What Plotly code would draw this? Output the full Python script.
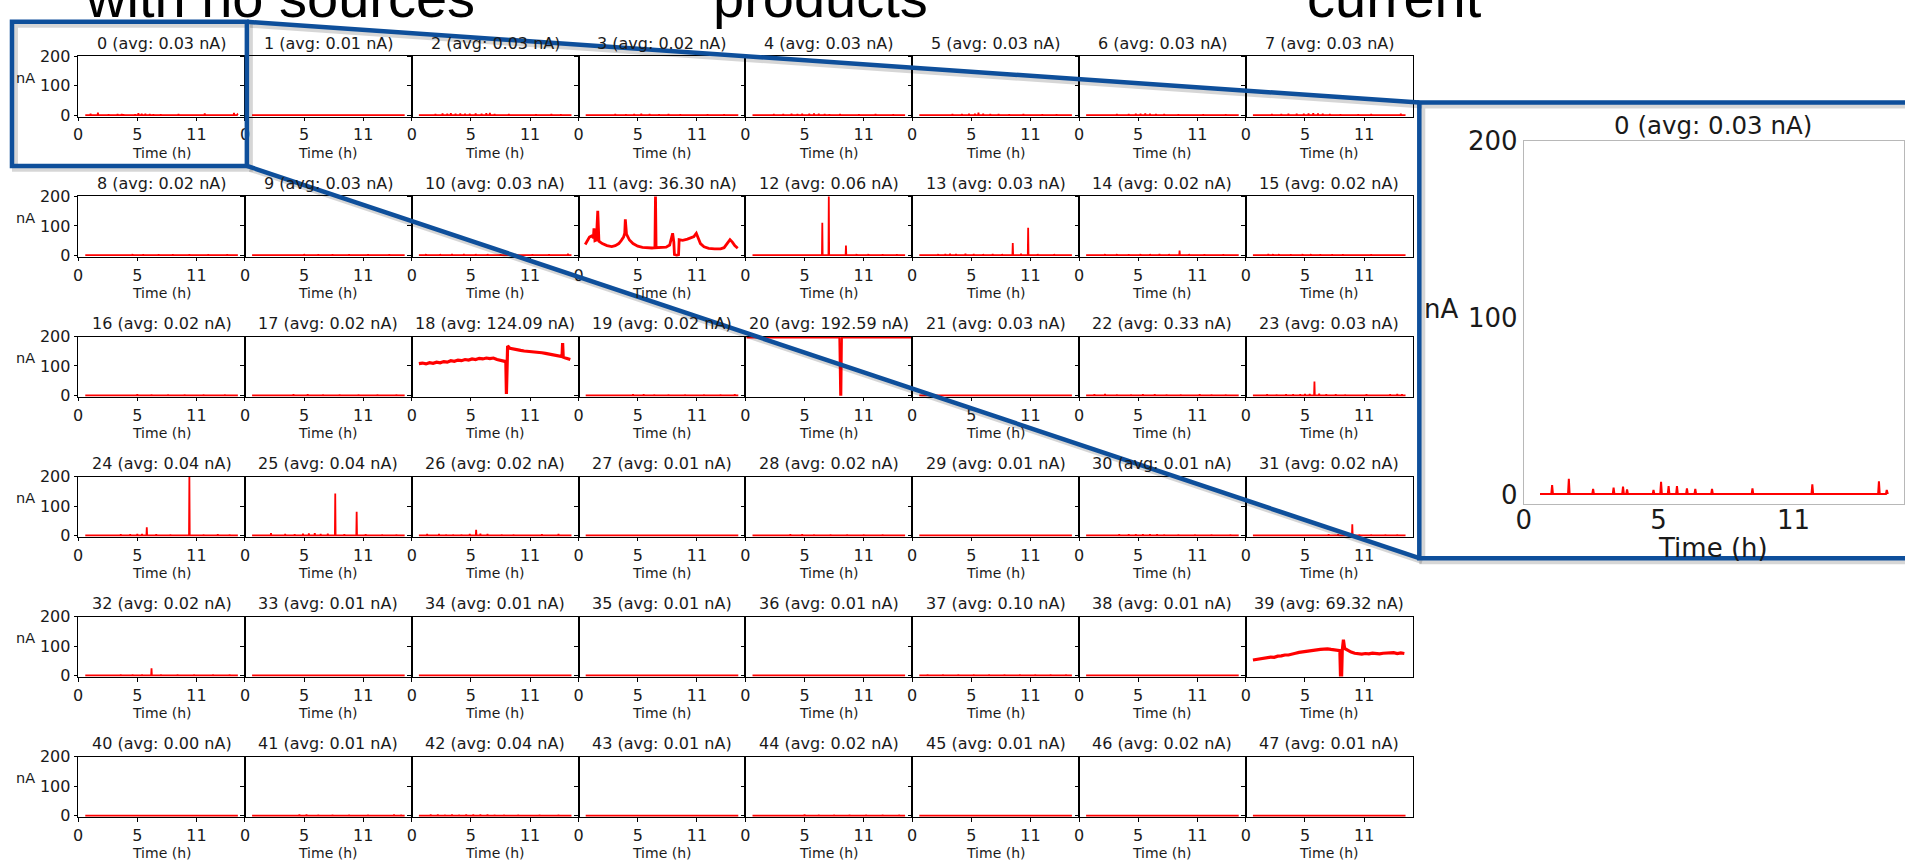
import plotly.graph_objects as go

W, H = 1905, 868

# ---------------- data ----------------
channel_avg_nA = [0.03, 0.01, 0.03, 0.02, 0.03, 0.03, 0.03, 0.03,
                  0.02, 0.03, 0.03, 36.30, 0.06, 0.03, 0.02, 0.02,
                  0.02, 0.02, 124.09, 0.02, 192.59, 0.03, 0.33, 0.03,
                  0.04, 0.04, 0.02, 0.01, 0.02, 0.01, 0.01, 0.02,
                  0.02, 0.01, 0.01, 0.01, 0.01, 0.10, 0.01, 69.32,
                  0.00, 0.01, 0.04, 0.01, 0.02, 0.01, 0.02, 0.01]

x_tick_vals = [0, 5, 10]
x_tick_text = ["0", "5", "11"]
y_tick_vals = [0, 100, 200]
y_tick_text = ["0", "100", "200"]

record_start_h = 0.6
record_end_h = 13.5
baseline_nA = 0.5

# short spikes on top of the quiet baseline (hours, nA); empty for continuous channels
spike_hours = [
    [1.05, 1.67, 2.57, 3.33, 3.68, 3.83, 4.81, 5.09, 5.37, 5.68, 6.05, 6.36, 6.98, 8.48, 10.7, 13.17, 13.46],
    [1.5, 2.6, 3.8, 5.2, 6.4, 8.0, 10.2, 12.6],
    [1.2, 2.0, 2.6, 3.0, 3.3, 3.7, 4.1, 4.5, 4.9, 5.4, 5.9, 6.3, 6.6, 7.0, 8.2, 10.5, 11.8, 12.6],
    [1.2, 2.3, 3.1, 4.0, 4.7, 5.3, 6.0, 6.8, 7.6, 8.6, 10.9, 12.3],
    [1.0, 2.4, 3.2, 3.9, 4.4, 4.8, 5.4, 5.8, 6.2, 6.7, 7.1, 8.0, 9.6, 11.0, 12.5],
    [0.9, 1.8, 2.6, 3.4, 4.2, 4.8, 5.3, 5.6, 6.0, 6.6, 7.3, 8.2, 9.4, 11.0, 12.2],
    [1.3, 2.4, 3.2, 4.2, 4.8, 5.2, 5.6, 6.0, 6.5, 7.2, 8.4, 10.5, 12.4],
    [1.2, 2.2, 3.0, 3.6, 4.3, 4.9, 5.3, 5.7, 6.1, 6.5, 7.1, 8.0, 9.5, 10.6, 13.1],
    [1.0, 2.2, 3.4, 4.6, 5.5, 6.8, 8.0, 9.4, 11.0, 12.6],
    [1.4, 2.6, 3.8, 5.0, 6.2, 7.4, 8.8, 10.4, 12.2],
    [1.2, 2.4, 3.4, 4.4, 5.4, 6.4, 7.5, 8.8, 10.2, 11.6, 13.2],
    [],
    [1.2, 2.4, 3.5, 4.6, 5.8, 6.5, 7.05, 8.5, 9.4, 10.4, 11.6, 12.8],
    [1.2, 2.2, 2.8, 3.2, 3.7, 4.5, 5.2, 6.0, 6.8, 7.6, 8.5, 9.2, 9.8, 10.6, 12.0],
    [1.0, 2.2, 3.2, 4.2, 5.2, 6.0, 6.8, 7.6, 8.5, 9.3, 10.6, 12.2],
    [1.0, 1.9, 2.3, 2.8, 3.8, 4.8, 5.5, 6.3, 7.3, 8.2, 10.6],
    [1.2, 2.6, 3.8, 5.0, 6.2, 7.6, 9.0, 10.6, 12.4],
    [1.6, 2.9, 4.1, 5.3, 6.6, 8.0, 9.6, 11.2, 12.8],
    [],
    [1.2, 2.4, 3.6, 4.6, 5.5, 6.4, 7.6, 9.0, 10.6, 12.0, 13.2],
    [],
    [1.4, 2.8, 4.2, 5.6, 7.0, 8.4, 10.0, 11.6, 13.0],
    [1.3, 2.2, 3.2, 4.4, 5.4, 6.4, 7.4, 8.6, 10.2, 11.2, 12.4],
    [1.0, 1.8, 2.6, 3.4, 4.0, 4.6, 5.0, 5.4, 5.8, 6.2, 6.8, 7.6, 8.4, 10.2, 12.2, 12.8, 13.2],
    [1.4, 2.6, 3.6, 4.4, 5.0, 5.4, 5.8, 6.6, 7.8, 9.4, 10.6, 11.8, 12.8],
    [1.2, 2.2, 3.4, 4.2, 4.9, 5.4, 5.9, 6.4, 7.0, 7.63, 8.4, 9.44, 10.2, 11.6, 12.8],
    [1.3, 2.3, 2.9, 3.5, 4.2, 4.9, 5.44, 5.8, 6.4, 7.6, 8.6, 11.0, 12.4],
    [1.4, 2.8, 4.2, 5.6, 7.0, 8.4, 9.8, 11.2, 12.6],
    [1.2, 2.5, 3.8, 4.8, 5.8, 7.2, 8.6, 10.0, 11.6],
    [1.6, 3.0, 4.4, 5.8, 7.2, 8.6, 10.0, 11.4, 12.8],
    [1.2, 2.4, 3.4, 4.2, 4.8, 5.4, 6.0, 6.6, 7.2, 8.4, 9.8, 11.2, 12.8],
    [1.2, 2.2, 3.2, 4.2, 5.2, 6.2, 7.0, 7.8, 8.4, 9.0, 9.6, 10.6, 11.8, 12.8],
    [1.2, 2.4, 3.6, 4.6, 5.4, 6.2, 7.0, 8.4, 9.8, 11.4, 12.8],
    [1.4, 3.0, 4.6, 6.0, 7.4, 9.0, 10.6, 12.2],
    [1.6, 3.2, 4.8, 6.2, 7.8, 9.4, 11.0, 12.6],
    [1.2, 2.8, 4.4, 6.0, 7.6, 9.2, 10.8, 12.4],
    [1.5, 3.1, 4.7, 6.3, 7.9, 9.5, 11.1, 12.7],
    [1.3, 2.6, 3.9, 5.2, 6.5, 7.8, 9.1, 10.4, 11.7, 13.0],
    [1.4, 2.9, 4.4, 5.9, 7.4, 8.9, 10.4, 11.9],
    [],
    [2.0, 4.5, 7.0, 9.5, 12.0],
    [1.3, 2.6, 3.6, 4.6, 5.2, 6.2, 7.4, 8.8, 10.4, 12.6, 13.2],
    [1.0, 1.6, 2.2, 2.8, 3.4, 4.0, 4.6, 5.2, 5.8, 6.4, 7.0, 7.8, 9.0, 10.8, 12.4],
    [1.4, 2.8, 4.2, 5.6, 7.0, 8.4, 9.8, 11.2, 12.6],
    [1.2, 2.5, 3.8, 5.0, 6.2, 7.5, 8.8, 10.2, 11.6, 13.0],
    [1.6, 3.2, 4.8, 6.4, 8.0, 9.6, 11.2, 12.8],
    [1.3, 2.6, 3.9, 5.2, 6.5, 7.8, 9.1, 10.4, 11.7, 13.0],
    [1.5, 3.0, 4.5, 6.0, 7.5, 9.0, 10.5, 12.0],
]
spike_nA = [
    [5.5, 9, 3.3, 4, 4.6, 3, 2.8, 7.4, 5, 5, 3.7, 3.3, 3.3, 3.7, 5.9, 7.7, 2.8],
    [2.5, 2, 2.5, 3, 2, 2, 2, 2.5],
    [3, 4, 6, 5, 7, 5, 6, 5, 5, 6, 5, 7, 8, 4, 4, 3, 4, 3],
    [3, 3, 4, 3, 4, 5, 4, 3, 4, 3, 3, 3],
    [3, 4, 4, 5, 4, 5, 5, 6, 5, 4, 3, 4, 3, 4, 3],
    [3, 3, 3, 4, 4, 5, 5, 9, 5, 4, 4, 3, 4, 3, 3],
    [3, 3, 4, 4, 5, 5, 6, 5, 4, 4, 3, 3, 3],
    [3, 4, 4, 5, 5, 5, 6, 7, 6, 5, 4, 3, 3, 4, 5],
    [3, 3, 3, 4, 3, 3, 3, 3, 3, 3],
    [3, 3, 3, 4, 3, 3, 3, 3, 3],
    [4, 4, 5, 5, 4, 4, 3, 4, 3, 3, 6],
    [],
    [3, 3, 3, 3, 3, 111, 205, 33, 4, 4, 3, 3],
    [3, 4, 5, 6, 5, 6, 5, 4, 5, 4, 42, 6, 94, 4, 4],
    [3, 4, 4, 3, 4, 4, 5, 4, 16, 4, 3, 3],
    [3, 5, 4, 4, 3, 4, 4, 3, 3, 3, 3],
    [3, 3, 3, 4, 3, 3, 3, 3, 3],
    [3, 3, 4, 4, 3, 3, 3, 3, 3],
    [],
    [3, 3, 3, 4, 4, 3, 3, 3, 3, 3, 4],
    [],
    [3, 3, 3, 3, 3, 3, 3, 3, 3],
    [4, 5, 3, 3, 4, 4, 3, 3, 4, 3, 3],
    [3, 4, 3, 4, 4, 4, 5, 5, 47, 6, 4, 4, 3, 4, 4, 5, 4],
    [3, 3, 4, 4, 5, 5, 28, 4, 3, 205, 3, 4, 3],
    [3, 8, 5, 4, 6, 7, 8, 5, 6, 143, 4, 81, 4, 3, 3],
    [5, 5, 3, 3, 3, 5, 19, 6, 5, 3, 3, 4, 5],
    [3, 3, 3, 3, 3, 3, 3, 3, 3],
    [3, 3, 4, 4, 3, 3, 3, 3, 3],
    [3, 3, 3, 3, 3, 3, 3, 3, 3],
    [3, 3, 4, 4, 4, 4, 4, 4, 3, 3, 3, 3, 3],
    [3, 3, 3, 3, 3, 3, 4, 4, 4, 38, 3, 3, 3, 3],
    [3, 3, 4, 4, 4, 25, 3, 3, 3, 3, 3],
    [3, 3, 3, 3, 3, 3, 3, 3],
    [3, 3, 3, 3, 3, 3, 3, 3],
    [3, 3, 3, 3, 3, 3, 3, 3],
    [3, 3, 3, 3, 3, 3, 3, 3],
    [4, 3, 4, 3, 4, 3, 3, 3, 3, 3],
    [3, 3, 3, 3, 3, 3, 3, 3],
    [],
    [2, 2, 2, 2, 2],
    [3, 3, 3, 4, 4, 3, 3, 3, 3, 4, 3],
    [3, 4, 4, 3, 4, 3, 4, 4, 4, 4, 3, 3, 3, 3, 3],
    [3, 3, 3, 3, 3, 3, 3, 3, 3],
    [3, 3, 3, 4, 3, 3, 3, 3, 3, 3],
    [3, 3, 3, 3, 3, 3, 3, 3],
    [3, 3, 3, 3, 3, 3, 3, 3, 3, 3],
    [3, 3, 3, 3, 3, 3, 3, 3],
]

# continuous channels
ch11_hours = [0.56, 0.75, 0.92, 1.1, 1.25, 1.3, 1.38, 1.5, 1.62, 1.72, 2.0, 2.4, 2.8, 3.1, 3.4, 3.6, 3.8, 3.9,
              3.95, 4.05, 4.3, 4.6, 5.0, 5.4, 5.8, 6.2, 6.45, 6.5, 6.55, 7.0, 7.4, 7.7, 7.85, 7.95, 8.05, 8.1,
              8.3, 8.45, 8.5, 8.8, 9.2, 9.5, 9.75, 9.85, 9.95, 10.1, 10.3, 10.6, 11.0, 11.5, 12.0, 12.3, 12.55,
              12.8, 13.0, 13.2, 13.45]
ch11_nA = [37, 50, 62, 66, 60, 92, 50, 52, 151, 48, 40, 33, 30, 33, 40, 50, 62, 75,
           122, 72, 52, 40, 31, 27, 25, 25, 26, 205, 26, 27, 28, 35, 60, 75, 45, 3,
           0, 2, 53, 51, 55, 60, 64, 70, 75, 60, 40, 29, 24, 22, 22, 26, 40,
           53, 45, 33, 24]

ch18_hours = [0.6, 0.9, 1.2, 1.5, 1.8, 2.1, 2.4, 2.7, 3.0, 3.3, 3.6, 3.9, 4.2, 4.5, 4.8, 5.1, 5.4, 5.7, 6.0,
              6.3, 6.6, 6.9, 7.2, 7.5, 7.8, 7.95, 8.0, 8.05, 8.1, 8.3, 8.6, 8.9, 9.2, 9.5, 9.8, 10.1, 10.4,
              10.7, 11.0, 11.3, 11.6, 11.9, 12.2, 12.5, 12.7, 12.75, 12.8, 13.0, 13.2, 13.4]
ch18_nA = [108, 110, 107, 111, 109, 113, 111, 115, 113, 118, 116, 120, 118, 122, 120, 124, 122, 126, 124,
           127, 125, 127, 122, 120, 116, 115, 5, 60, 168, 160, 157, 155, 153, 151, 150, 148, 149,
           146, 145, 143, 141, 139, 136, 133, 132, 178, 130, 127, 124, 122]

ch20_hours = [0.1, 2.0, 4.0, 6.0, 7.95, 8.02, 8.1, 8.15, 10.0, 12.0, 14.0]
ch20_nA = [197, 197, 197, 197, 197, 3, 3, 197, 197, 197, 197]

ch39_hours = [0.6, 0.9, 1.2, 1.5, 1.8, 2.1, 2.4, 2.7, 3.0, 3.3, 3.6, 3.9, 4.2, 4.5, 4.8, 5.1, 5.4, 5.7, 6.0,
              6.3, 6.6, 6.9, 7.2, 7.5, 7.8, 7.95, 8.0, 8.1, 8.15, 8.25, 8.35, 8.6, 8.9, 9.2, 9.5, 9.8, 10.1,
              10.4, 10.7, 11.0, 11.3, 11.6, 11.9, 12.2, 12.5, 12.8, 13.1, 13.4]
ch39_nA = [53, 55, 56, 59, 60, 63, 62, 66, 67, 70, 70, 74, 76, 79, 81, 83, 85, 86, 88,
           89, 90, 91, 89, 88, 86, 85, 2, 2, 85, 122, 92, 86, 80, 76, 74, 73, 75,
           74, 76, 75, 74, 76, 77, 76, 78, 75, 77, 75]

continuous = {11: (ch11_hours, ch11_nA, 2.8), 18: (ch18_hours, ch18_nA, 3.2),
              20: (ch20_hours, ch20_nA, 2.2), 39: (ch39_hours, ch39_nA, 3.2)}

header_words = ["with no sources", "products", "current"]


# ---------------- helpers ----------------
def px_x(x):
    return x / W


def px_y(y):
    return 1 - y / H


def spiky(hours, vals):
    xs, ys = [record_start_h], [baseline_nA]
    for t, v in sorted(zip(hours, vals)):
        xs += [t - 0.03, t, t + 0.03]
        ys += [baseline_nA, v, baseline_nA]
    xs.append(record_end_h)
    ys.append(baseline_nA)
    return xs, ys


FONT = "DejaVu Sans"
TXT = "#1a1a1a"
RED = "#ff0000"
BLUE = "#0e4f9b"

GRID_LEFT, COL_W = 70.5, 167.6
GRID_TOP, ROW_PITCH, PANEL_H = 42.5, 143.9, 62.0
X_RANGE = [0, 14.1]
Y_RANGE = [-5, 200]

fig = go.Figure()
layout = {}
annotations = []

for i in range(48):
    r, c = divmod(i, 8)
    n = i + 1
    x0 = GRID_LEFT + c * COL_W
    x1 = x0 + COL_W
    top = GRID_TOP + r * ROW_PITCH
    bot = top + PANEL_H
    if i in continuous:
        xs, ys, lw = continuous[i]
    else:
        xs, ys = spiky(spike_hours[i], spike_nA[i])
        lw = 1.8
    fig.add_trace(go.Scatter(x=xs, y=ys, mode="lines", line=dict(color=RED, width=lw),
                             xaxis=f"x{n}", yaxis=f"y{n}", showlegend=False, hoverinfo="skip"))
    layout[f"xaxis{n}"] = dict(domain=[px_x(x0), px_x(x1)], anchor=f"y{n}", range=X_RANGE,
                               tickmode="array", tickvals=x_tick_vals, ticktext=x_tick_text,
                               ticks="outside", ticklen=3.5, tickwidth=1, tickcolor="black",
                               showline=True, linecolor="black", linewidth=1, mirror=True,
                               showgrid=False, zeroline=False,
                               tickfont=dict(family=FONT, size=16, color=TXT))
    layout[f"yaxis{n}"] = dict(domain=[px_y(bot), px_y(top)], anchor=f"x{n}", range=Y_RANGE,
                               tickmode="array", tickvals=y_tick_vals, ticktext=y_tick_text,
                               ticks="outside", ticklen=3.5, tickwidth=1, tickcolor="black",
                               showticklabels=(c == 0),
                               showline=True, linecolor="black", linewidth=1, mirror=True,
                               showgrid=False, zeroline=False,
                               tickfont=dict(family=FONT, size=16, color=TXT))
    annotations.append(dict(text=f"{i} (avg: {channel_avg_nA[i]:.2f} nA)", x=px_x((x0 + x1) / 2),
                            y=px_y(top - 13.5), xref="paper", yref="paper", showarrow=False,
                            xanchor="center", yanchor="middle",
                            font=dict(family=FONT, size=16, color=TXT)))
    annotations.append(dict(text="Time (h)", x=px_x((x0 + x1) / 2), y=px_y(bot + 37),
                            xref="paper", yref="paper", showarrow=False,
                            xanchor="center", yanchor="middle",
                            font=dict(family=FONT, size=14, color=TXT)))
    if c == 0:
        annotations.append(dict(text="nA", x=px_x(17.5), y=px_y(top + 22), xref="paper", yref="paper",
                                showarrow=False, xanchor="center", yanchor="middle",
                                font=dict(family=FONT, size=14.5, color=TXT)))

# ---------------- enlarged inset of channel 0 ----------------
n = 49
ix, iy = spiky(spike_hours[0], spike_nA[0])
fig.add_trace(go.Scatter(x=ix, y=iy, mode="lines", line=dict(color=RED, width=2),
                         xaxis=f"x{n}", yaxis=f"y{n}", showlegend=False, hoverinfo="skip"))
layout[f"xaxis{n}"] = dict(domain=[px_x(1523), 1.0], anchor=f"y{n}", range=X_RANGE,
                           tickmode="array", tickvals=x_tick_vals, ticktext=x_tick_text,
                           ticks="", ticklabelstandoff=-7,
                           showline=True, linecolor="#b8b8b8", linewidth=1, mirror=True,
                           showgrid=False, zeroline=False,
                           tickfont=dict(family=FONT, size=26, color=TXT))
layout[f"yaxis{n}"] = dict(domain=[px_y(502), px_y(129)], anchor=f"x{n}", range=Y_RANGE,
                           tickmode="array", tickvals=y_tick_vals, ticktext=y_tick_text,
                           ticks="", showline=True, linecolor="#b8b8b8", linewidth=1, mirror=True,
                           showgrid=False, zeroline=False,
                           tickfont=dict(family=FONT, size=26, color=TXT))
annotations.append(dict(text=f"0 (avg: {channel_avg_nA[0]:.2f} nA)", x=px_x(1713), y=px_y(113),
                        xref="paper", yref="paper", showarrow=False, xanchor="center", yanchor="middle",
                        font=dict(family=FONT, size=24.5, color=TXT)))
annotations.append(dict(text="Time (h)", x=px_x(1713), y=px_y(548), xref="paper", yref="paper",
                        showarrow=False, xanchor="center", yanchor="middle",
                        font=dict(family=FONT, size=26, color=TXT)))
annotations.append(dict(text="nA", x=px_x(1440), y=px_y(302), xref="paper", yref="paper",
                        showarrow=False, xanchor="center", yanchor="middle",
                        font=dict(family=FONT, size=26, color=TXT)))

# ---------------- cut-off slide headings ----------------
for word, cx in zip(header_words, [273, 816, 1393]):
    annotations.append(dict(text=word, x=px_x(cx), y=px_y(16), xref="paper", yref="paper",
                            showarrow=False, xanchor="center", yanchor="bottom",
                            font=dict(family="Liberation Sans", size=56, color="black")))

# ---------------- zoom callout shapes ----------------
shapes = []


def seg(xa, ya, xb, yb, color, width):
    return dict(type="line", xref="paper", yref="paper", x0=px_x(xa), y0=px_y(ya),
                x1=px_x(xb), y1=px_y(yb), line=dict(color=color, width=width), layer="above")


def box(xa, ya, xb, yb, color, width):
    return dict(type="rect", xref="paper", yref="paper", x0=px_x(xa), y0=px_y(ya),
                x1=px_x(xb), y1=px_y(yb), line=dict(color=color, width=width),
                fillcolor="rgba(0,0,0,0)", layer="above")


shadow = "rgba(0,0,0,0.16)"
d = 3
shapes += [box(4 + d, 7 + d, 240 + d, 155 + d, shadow, 6),
           box(1418 + d, 90 + d, 1915, 558 + d, shadow, 6),
           seg(240 + d, 7 + d, 1418 + d, 90 + d, shadow, 6),
           seg(240 + d, 155 + d, 1418 + d, 558 + d, shadow, 6)]
shapes += [box(4, 7, 240, 155, BLUE, 4.5),
           box(1418, 90, 1915, 558, BLUE, 4.5),
           seg(240, 7, 1418, 90, BLUE, 4.5),
           seg(240, 155, 1418, 558, BLUE, 4.5)]

fig.update_layout(**layout)
fig.update_layout(width=W, height=H, margin=dict(l=0, r=0, t=0, b=0),
                  paper_bgcolor="white", plot_bgcolor="white",
                  annotations=annotations, shapes=shapes, showlegend=False)

fig.write_html("out.html")
